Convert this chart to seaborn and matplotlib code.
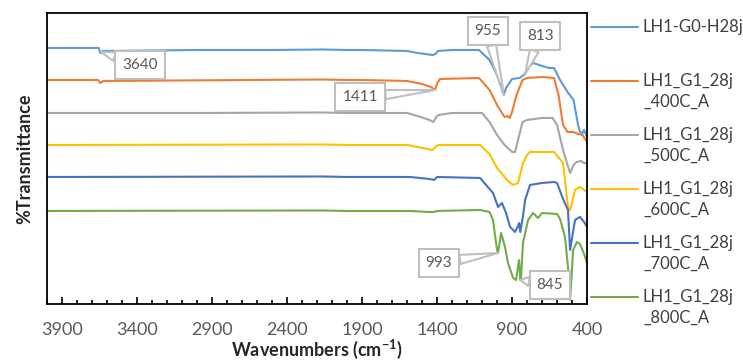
"""FTIR spectra, stacked transmittance curves (LH1 series)."""

import matplotlib.pyplot as plt
import numpy as np
import pandas as pd
import seaborn as sns
from matplotlib.lines import Line2D
from matplotlib.ticker import MultipleLocator, FixedLocator


# ─── Data (arbitrary offset %T units) ────────────────────────────────────────

series_names = [
    "LH1-G0-H28j",
    "LH1_G1_28j_400C_A",
    "LH1_G1_28j_500C_A",
    "LH1_G1_28j_600C_A",
    "LH1_G1_28j_700C_A",
    "LH1_G1_28j_800C_A",
]
legend_labels = [
    ["LH1-G0-H28j"],
    ["LH1_G1_28j", "_400C_A"],
    ["LH1_G1_28j", "_500C_A"],
    ["LH1_G1_28j", "_600C_A"],
    ["LH1_G1_28j", "_700C_A"],
    ["LH1_G1_28j", "_800C_A"],
]
colors = ["#5B9BD5", "#ED7D31", "#A5A5A5", "#FFC000", "#4472C4", "#70AD47"]

wn_g0 = [4000, 3700, 3655, 3645, 3630, 3000, 2500, 2165, 2000, 1900,
         1600, 1530, 1430, 1410, 1395, 1300, 1120, 1050, 1000, 955, 940, 900,
         850, 813, 790, 760, 700, 650, 620, 580, 530, 490, 460, 447, 430,
         420, 400]
t_g0 = [256, 256, 256, 251, 253, 254, 254, 254.5, 254, 254,
        253, 251, 249, 250, 253, 254, 254, 244, 229, 209, 216, 225,
        226, 230, 237, 241, 238, 236, 236, 224, 212, 204, 179, 172, 171,
        174, 167]

wn_400 = [4000, 3660, 3645, 3625, 2165, 2000, 1900, 1600, 1500, 1440,
          1413, 1398, 1380, 1120, 1050, 1000, 950, 930, 915, 905, 900, 870,
          830, 800, 700, 620, 590, 560, 530, 490, 460, 430, 400]
t_400 = [224, 224, 221, 223, 224.5, 224, 224, 223, 220, 217,
         214, 221, 225, 226, 214, 199, 187, 188, 186, 190, 192, 209,
         224, 226, 227, 226, 209, 179, 172, 172, 170, 169, 162]

wn_500 = [4000, 3000, 2165, 2000, 1900, 1600, 1530, 1450, 1425, 1405, 1390,
          1300, 1100, 1050, 1000, 950, 900, 880, 860, 830, 800, 700, 630,
          600, 560, 530, 513, 490, 470, 440, 420, 400]
t_500 = [191, 191, 191.5, 191, 191, 191, 188, 184, 182, 187, 189,
         191, 191, 182, 169, 159, 152, 152, 164, 182, 184, 186, 186,
         179, 154, 139, 131, 139, 142, 143, 141, 141]

wn_600 = [4000, 2165, 2000, 1900, 1600, 1530, 1430, 1405, 1390, 1113,
          1050, 1000, 933, 893, 860, 827, 800, 780, 620, 560, 527, 513, 480,
          447, 420, 400]
t_600 = [159, 159.5, 159, 159, 159, 157, 154, 158, 159, 159,
         150, 136, 124, 119, 121, 141, 149, 152, 152, 141, 97, 94, 114,
         117, 114, 112]

wn_700 = [4000, 2165, 2000, 1900, 1580, 1450, 1420, 1400, 1113, 1027,
          993, 967, 940, 913, 880, 860, 853, 845, 827, 813, 780, 700, 620,
          600, 560, 527, 513, 480, 447, 420, 400]
t_700 = [127, 127.5, 127, 127, 127, 125, 124, 127, 126, 111,
         97, 101, 91, 77, 72, 78, 81, 72, 88, 104, 119, 121, 122,
         121, 105, 94, 54, 84, 87, 82, 77]

wn_800 = [4000, 2165, 2000, 1900, 1580, 1460, 1420, 1400, 1113, 1050,
          1027, 1000, 993, 973, 947, 927, 893, 873, 858, 853, 845, 840, 827,
          793, 760, 727, 700, 600, 580, 547, 527, 513, 500, 493, 467, 447,
          420, 400]
t_800 = [93, 93.5, 93, 93, 93, 92, 92, 93, 94, 92,
         84, 54, 51, 71, 57, 41, 26, 24, 40, 44, 24, 26, 61,
         84, 91, 86, 91, 90, 85, 67, 37, 4, 35, 54, 62, 60,
         50, 41]

wavenumbers = [wn_g0, wn_400, wn_500, wn_600, wn_700, wn_800]
transmittance = [t_g0, t_400, t_500, t_600, t_700, t_800]

# callouts: label, peak (wn, T) on a curve, box centre (wn, T)
callout_labels = ["3640", "1411", "955", "813", "993", "845"]
callout_peaks = [(3640, 252), (1413, 214), (955, 209), (813, 230), (993, 51), (845, 24)]
callout_boxes = [(3380, 239), (1913, 207), (1060, 273), (713, 268), (1387, 41), (647, 19)]


# ─── Plot ────────────────────────────────────────────────────────────────────

df = pd.concat(
    [pd.DataFrame({"wn": w, "T": t, "sample": n})
     for w, t, n in zip(wavenumbers, transmittance, series_names)],
    ignore_index=True,
)

sns.set_theme(style="white")
plt.rcParams["font.family"] = ["Lato", "DejaVu Sans"]
plt.rcParams["mathtext.fontset"] = "custom"
plt.rcParams["mathtext.rm"] = "Lato"
plt.rcParams["mathtext.bf"] = "Lato:bold"

fig = plt.figure(figsize=(7.43, 3.61), dpi=100)
ax = fig.add_axes([0.0633, 0.158, 0.7268, 0.806])

sns.lineplot(
    data=df, x="wn", y="T", hue="sample", hue_order=series_names,
    palette=dict(zip(series_names, colors)), estimator=None, sort=False,
    linewidth=1.5, legend=False, ax=ax,
)

ax.set_xlim(4000, 400)
ax.set_ylim(0, 291)
ax.xaxis.set_major_locator(FixedLocator(np.arange(3900, 399, -500)))
ax.xaxis.set_minor_locator(MultipleLocator(100))
ax.tick_params(axis="x", which="major", direction="in", length=5, width=1.2,
               color="black", pad=13, labelsize=13, labelcolor="#595959",
               bottom=True)
ax.tick_params(axis="x", which="minor", direction="in", length=3.2, width=1.2,
               color="black", bottom=True)
ax.set_yticks([])
for sp in ax.spines.values():
    sp.set_color("black")
    sp.set_linewidth(1.3)

ax.set_xlabel(r"Wavenumbers (cm$^{\mathbf{-1}}$)", fontsize=13,
              fontweight="bold", color="#262626", va="baseline")
ax.xaxis.set_label_coords(0.5, -0.179)
ax.set_ylabel("%Transmittance", fontsize=13, fontweight="bold",
              color="#262626", labelpad=10)

for lab, peak, box in zip(callout_labels, callout_peaks, callout_boxes):
    ax.annotate(
        lab, xy=peak, xytext=box, ha="center", va="center",
        fontsize=11, color="#595959",
        bbox=dict(boxstyle="square,pad=0.45", fc="white", ec="#BFBFBF", lw=1.5),
        arrowprops=dict(arrowstyle="wedge,tail_width=0.6", fc="white",
                        ec="#BFBFBF", lw=1.5, shrinkA=0, shrinkB=0),
        zorder=5,
    )

# legend at the right, handle aligned with the first text line
W, H = 743, 361
for i, (lines, col) in enumerate(zip(legend_labels, colors)):
    y = 27 + 54 * i
    fig.add_artist(Line2D([591 / W, 638 / W], [1 - y / H, 1 - y / H],
                          color=col, lw=1.5, transform=fig.transFigure))
    for k, txt in enumerate(lines):
        fig.text(643 / W, 1 - (y + 21 * k) / H, txt, ha="left", va="center",
                 fontsize=12, color="#404040")

fig.savefig("out.png", dpi=100)
plt.close(fig)
